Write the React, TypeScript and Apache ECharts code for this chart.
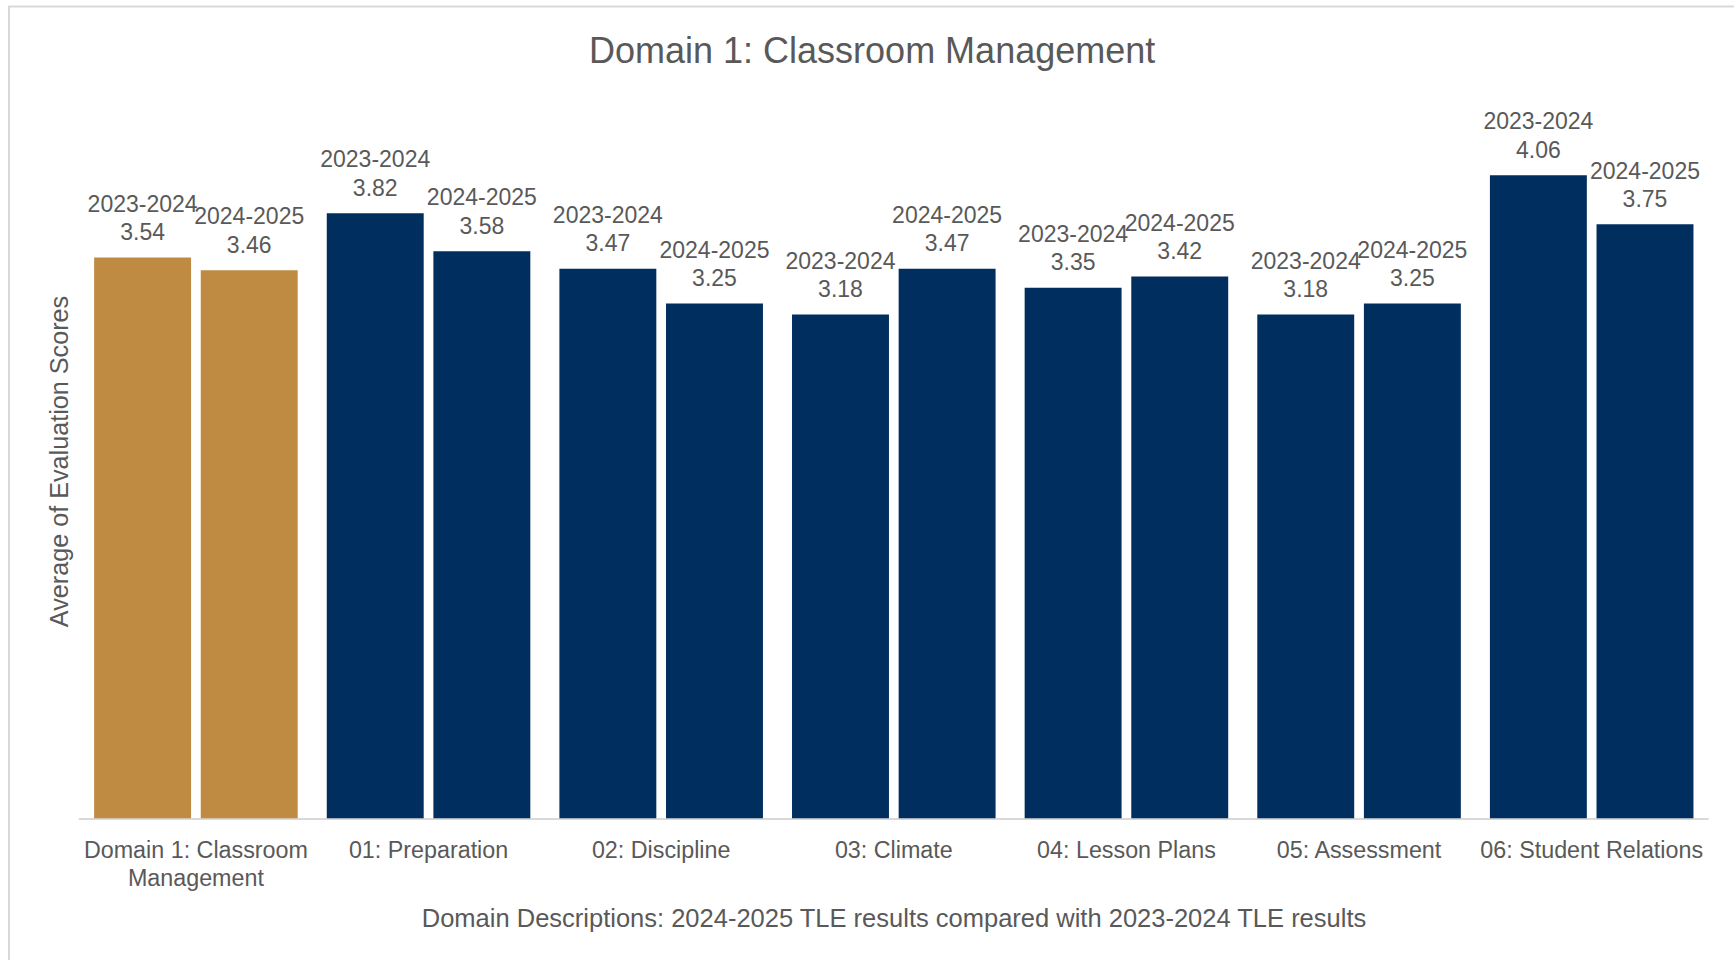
import React, { useEffect, useRef } from "react";
import * as echarts from "echarts";

const categories = [
  "Domain 1: Classroom\nManagement",
  "01: Preparation",
  "02: Discipline",
  "03: Climate",
  "04: Lesson Plans",
  "05: Assessment",
  "06: Student Relations",
];
const seriesNames = ["2023-2024", "2024-2025"];
const values2324 = [3.54, 3.82, 3.47, 3.18, 3.35, 3.18, 4.06];
const values2425 = [3.46, 3.58, 3.25, 3.47, 3.42, 3.25, 3.75];
const highlightIndex = 0;

const titleText = "Domain 1: Classroom Management";
const yTitle = "Average of Evaluation Scores";
const xTitle = "Domain Descriptions: 2024-2025 TLE results compared with 2023-2024 TLE results";

const GOLD = "#BF8B42";
const NAVY = "#002E5E";
const TEXT = "#595959";
const FONT = "'Liberation Sans', Arial, sans-serif";

export default function App() {
  const ref = useRef<HTMLDivElement>(null);
  useEffect(() => {
    document.body.style.margin = "0";
    if (!ref.current) return;
    const chart = echarts.init(ref.current, undefined, { renderer: "svg" });
    const makeData = (vals: number[]) =>
      vals.map((v, i) => ({
        value: v,
        itemStyle: { color: i === highlightIndex ? GOLD : NAVY },
      }));
    const label = {
      show: true,
      position: "top" as const,
      distance: 11,
      color: TEXT,
      fontFamily: FONT,
      fontSize: 23,
      lineHeight: 28.5,
      formatter: (p: any) => `${p.seriesName}\n${Number(p.value).toFixed(2)}`,
    };
    chart.setOption({
      animation: false,
      backgroundColor: "#ffffff",
      title: {
        text: titleText,
        left: 584,
        top: 27,
        textStyle: { color: TEXT, fontFamily: FONT, fontSize: 36, fontWeight: "normal" },
      },
      grid: { left: 79.6, right: 26, top: 105.5, bottom: 141.7, containLabel: false },
      xAxis: {
        type: "category",
        data: categories,
        axisLine: { show: true, lineStyle: { color: "#D9D9D9", width: 2 } },
        axisTick: { show: false },
        axisLabel: {
          color: TEXT,
          fontFamily: FONT,
          fontSize: 23.3,
          lineHeight: 28.5,
          margin: 17,
          interval: 0,
        },
      },
      yAxis: {
        type: "value",
        min: 0,
        max: 4.5,
        show: false,
        splitLine: { show: false },
      },
      series: [
        {
          name: seriesNames[0],
          type: "bar",
          data: makeData(values2324),
          barGap: "10%",
          barCategoryGap: "12.5%",
          label,
        },
        {
          name: seriesNames[1],
          type: "bar",
          data: makeData(values2425),
          barGap: "10%",
          barCategoryGap: "12.5%",
          label,
        },
      ],
      graphic: [
        {
          type: "rect",
          shape: { x: 9, y: 6.5, width: 1800, height: 1000 },
          style: { fill: "none", stroke: "#D9D9D9", lineWidth: 2 },
          silent: true,
        },
        {
          type: "text",
          x: 58.5,
          y: 461.5,
          rotation: Math.PI / 2,
          style: {
            text: yTitle,
            fill: TEXT,
            font: `25.2px ${FONT}`,
            textAlign: "center",
            textVerticalAlign: "middle",
          },
        },
        {
          type: "text",
          x: 894,
          y: 918.3,
          style: {
            text: xTitle,
            fill: TEXT,
            font: `25.5px ${FONT}`,
            textAlign: "center",
            textVerticalAlign: "middle",
          },
        },
      ],
    });
    return () => chart.dispose();
  }, []);
  return <div ref={ref} style={{ width: 1734, height: 960 }} />;
}
